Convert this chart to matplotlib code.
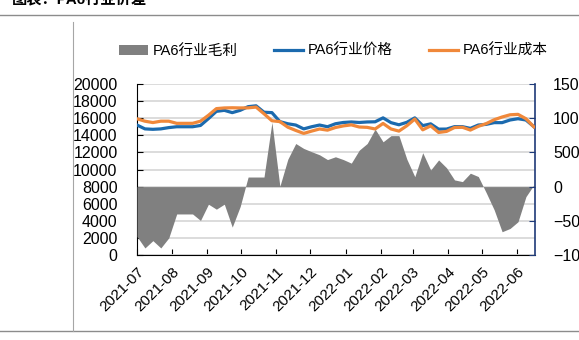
import pandas as pd
import numpy as np
import matplotlib
matplotlib.use('Agg')
import matplotlib.pyplot as plt
import matplotlib.dates as mdates
from matplotlib.patches import Patch
from matplotlib.lines import Line2D

plt.rcParams['font.family'] = ['Liberation Sans', 'Noto Sans CJK SC', 'DejaVu Sans']

# weekly data, 2021-07 .. 2022-06 (yuan/ton)
dates = pd.date_range('2021-07-01', periods=51, freq='7D')

price = [15200, 14750, 14700, 14750, 14900, 15000, 15000, 15000, 15150, 15950,
         16800, 16920, 16650, 16920, 17350, 17450, 16700, 16650, 15600, 15350,
         15200, 14750, 15000, 15200, 15000, 15350, 15500, 15560, 15500, 15560,
         15580, 16040, 15480, 15230, 15520, 16040, 15130, 15340, 14720, 14730,
         15010, 15010, 14810, 15200, 15280, 15480, 15480, 15790, 15940, 15790,
         15010]

cost = [15930, 15650, 15490, 15650, 15650, 15400, 15400, 15400, 15650, 16340,
        17120, 17200, 17220, 17200, 17210, 17300, 16520, 15700, 15600, 14950,
        14570, 14220, 14490, 14740, 14600, 14910, 15100, 15220, 14970, 14930,
        14740, 15390, 14740, 14490, 15120, 15900, 14640, 15100, 14330, 14455,
        14910, 14940, 14610, 15050, 15370, 15820, 16140, 16400, 16450, 15940,
        14985]

margin = [-730, -897, -790, -897, -750, -400, -400, -400, -495, -257,
          -330, -257, -592, -291, 140, 140, 140, 940, 5, 400,
          630, 558, 510, 465, 395, 436, 395, 343, 533, 630,
          840, 655, 745, 745, 400, 145, 495, 243, 390, 275,
          98, 73, 196, 147, -90, -340, -660, -612, -514, -147,
          25]

month_ticks = pd.date_range('2021-07-01', '2022-06-01', freq='MS')

c_price = '#1B6AAE'
c_cost = '#F0883A'
c_margin = '#808080'
c_right = '#1F3A78'

fig = plt.figure(figsize=(5.79, 3.40), dpi=100)

# frame lines of the report page
fig.add_artist(Line2D([0, 1], [1 - 15/340, 1 - 15/340], color='#8c8c8c', lw=1.0))
fig.add_artist(Line2D([0, 1], [1 - 331/340, 1 - 331/340], color='#8c8c8c', lw=1.0))
fig.add_artist(Line2D([73/579, 73/579], [1 - 22/340, 1 - 331/340], color='#a6a6a6', lw=0.8))
fig.text(12/579, 1 - 3/340, '图表：PA6行业价差', fontsize=11, fontweight='bold',
         va='baseline', ha='left')

ax = fig.add_axes([137/579, 1 - 255/340, 398/579, 171/340])
ax2 = ax.twinx()   # margin area, right scale
ax3 = ax.twinx()   # price lines on top of the area

ax.set_ylim(0, 20000)
ax.set_yticks(np.arange(0, 20001, 2000))
ax.grid(axis='y', color='#d9d9d9', lw=1.3)
ax.set_axisbelow(True)

ax2.fill_between(dates, 0, margin, color=c_margin, lw=0)
ax2.set_ylim(-1000, 1500)
ax2.set_yticks(np.arange(-1000, 1501, 500))

ax3.plot(dates, price, color=c_price, lw=2.3, solid_joinstyle='round')
ax3.plot(dates, cost, color=c_cost, lw=2.3, solid_joinstyle='round')
ax3.set_ylim(0, 20000)
ax3.set_yticks([])
for s in ax3.spines.values():
    s.set_visible(False)

ax.set_xlim(dates[0], dates[-1] + pd.Timedelta(days=1))
ax.set_xticks(month_ticks)
ax.xaxis.set_major_formatter(mdates.DateFormatter('%Y-%m'))

for a in (ax, ax2):
    a.spines['top'].set_visible(False)
ax.spines['right'].set_visible(False)
ax2.spines['left'].set_visible(False)
ax2.spines['bottom'].set_visible(False)
ax.spines['left'].set_color('black')
ax.spines['bottom'].set_color('black')
ax2.spines['right'].set_color(c_right)
ax2.spines['right'].set_linewidth(1.2)

ax.tick_params(axis='y', direction='in', length=4, pad=14, labelsize=11.5, colors='black')
ax.tick_params(axis='x', direction='in', length=4, pad=7, labelsize=11)
ax2.tick_params(axis='y', direction='in', length=4, pad=13, labelsize=11.5,
                color=c_right, labelcolor='black')
for lab in ax.get_xticklabels():
    lab.set_rotation(45)
    lab.set_ha('right')
    lab.set_rotation_mode('anchor')

handles = [Patch(facecolor=c_margin, edgecolor='none'),
           Line2D([], [], color=c_price, lw=2.3),
           Line2D([], [], color=c_cost, lw=2.3)]
labels = ['PA6行业毛利', 'PA6行业价格', 'PA6行业成本']
fig.legend(handles, labels, loc='center', bbox_to_anchor=(333/579, 1 - 51/340),
           ncol=3, frameon=False, fontsize=10.5, handlelength=2.0,
           handleheight=0.6, handletextpad=0.3, columnspacing=2.5)

fig.savefig('out.png', dpi=100)
